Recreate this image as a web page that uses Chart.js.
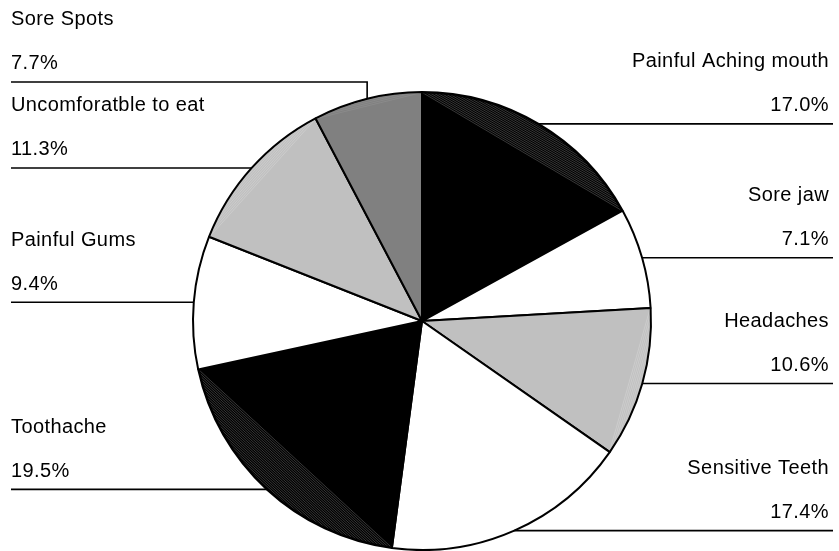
<!DOCTYPE html>
<html>
<head>
<meta charset="utf-8">
<script src="https://cdn.jsdelivr.net/npm/chart.js@4.4.1/dist/chart.umd.min.js"></script>
<style>
  html, body { margin: 0; padding: 0; background: #fff; }
  #wrap { width: 839px; height: 551px; }
</style>
</head>
<body>
<div id="wrap"><canvas id="symptomes"></canvas></div>
<script>
const symptoms = ["Painful Aching mouth", "Sore jaw", "Headaches", "Sensitive Teeth", "Toothache", "Painful Gums", "Uncomforatble to eat", "Sore Spots"];
const percents = [17.0, 7.1, 10.6, 17.4, 19.5, 9.4, 11.3, 7.7];
const sliceColors = ["#000000", "#ffffff", "#c0c0c0", "#ffffff", "#000000", "#ffffff", "#c0c0c0", "#808080"];
const stripeTones = ["#383838", null, "#cccccc", null, "#383838", null, "#cccccc", "#8a8a8a"];

const LABEL_FONT = '20px "Liberation Sans", Arial, sans-serif';
const MIN_GAP = 86;

// hatched band between the chord and the rim of each slice
const rimStripes = {
  id: 'rimStripes',
  afterDatasetsDraw(chart) {
    const ctx = chart.ctx;
    chart.getDatasetMeta(0).data.forEach((arc, i) => {
      const tone = stripeTones[i];
      if (!tone) return;
      const {x, y, startAngle, endAngle, outerRadius} = arc.getProps(['x', 'y', 'startAngle', 'endAngle', 'outerRadius'], true);
      const r = outerRadius - 1.5;
      ctx.save();
      ctx.beginPath();
      ctx.arc(x, y, r, startAngle, endAngle);
      ctx.closePath();
      ctx.clip();
      const ax = x + r * Math.cos(startAngle), ay = y + r * Math.sin(startAngle);
      const bx = x + r * Math.cos(endAngle), by = y + r * Math.sin(endAngle);
      const len = Math.hypot(bx - ax, by - ay);
      const ux = (bx - ax) / len, uy = (by - ay) / len;
      const mid = (startAngle + endAngle) / 2;
      const nx = Math.cos(mid), ny = Math.sin(mid);
      const depth = r - r * Math.cos((endAngle - startAngle) / 2);
      ctx.strokeStyle = tone;
      ctx.lineWidth = 1;
      for (let d = 1; d < depth + 2; d += 1.8) {
        ctx.beginPath();
        ctx.moveTo(ax + nx * d - ux * 30, ay + ny * d - uy * 30);
        ctx.lineTo(bx + nx * d + ux * 30, by + ny * d + uy * 30);
        ctx.stroke();
      }
      ctx.restore();
    });
  }
};

// category + percent labels with leader lines
const leaderLabels = {
  id: 'leaderLabels',
  afterDraw(chart) {
    const ctx = chart.ctx;
    const W = chart.width;
    const items = chart.getDatasetMeta(0).data.map((arc, i) => {
      const {x, y, startAngle, endAngle, outerRadius} = arc.getProps(['x', 'y', 'startAngle', 'endAngle', 'outerRadius'], true);
      const mid = (startAngle + endAngle) / 2;
      const px = x + outerRadius * Math.cos(mid);
      const py = y + outerRadius * Math.sin(mid);
      return {i, px, py, lineY: py, right: px >= x};
    });

    [true, false].forEach(side => {
      const list = items.filter(it => it.right === side).sort((a, b) => b.py - a.py);
      for (let k = 1; k < list.length; k++) {
        if (list[k - 1].lineY - list[k].lineY < MIN_GAP) list[k].lineY = list[k - 1].lineY - MIN_GAP;
      }
    });

    ctx.save();
    ctx.strokeStyle = '#000';
    ctx.lineWidth = 1.6;
    ctx.fillStyle = '#000';
    ctx.font = LABEL_FONT;
    ctx.letterSpacing = '0.4px';
    ctx.textBaseline = 'middle';
    items.forEach(it => {
      const endX = it.right ? W - 6 : 11;
      ctx.beginPath();
      ctx.moveTo(it.px, it.py);
      if (Math.abs(it.lineY - it.py) > 0.5) ctx.lineTo(it.px, it.lineY);
      ctx.lineTo(endX, it.lineY);
      ctx.stroke();

      ctx.textAlign = it.right ? 'right' : 'left';
      const tx = it.right ? W - 10 : 11;
      ctx.fillText(symptoms[it.i], tx, it.lineY - 62);
      ctx.fillText(percents[it.i].toFixed(1) + '%', tx, it.lineY - 18);
    });
    ctx.restore();
  }
};

new Chart(document.getElementById('symptomes'), {
  type: 'pie',
  data: {
    labels: symptoms,
    datasets: [{
      data: percents,
      backgroundColor: sliceColors,
      borderColor: '#000',
      borderWidth: 2,
      hoverOffset: 0
    }]
  },
  options: {
    responsive: true,
    maintainAspectRatio: false,
    animation: false,
    radius: 229,
    layout: { padding: { top: 91, bottom: 0, left: 5, right: 0 } },
    plugins: {
      legend: { display: false },
      tooltip: { enabled: false }
    },
    events: []
  },
  plugins: [rimStripes, leaderLabels]
});
</script>
</body>
</html>
